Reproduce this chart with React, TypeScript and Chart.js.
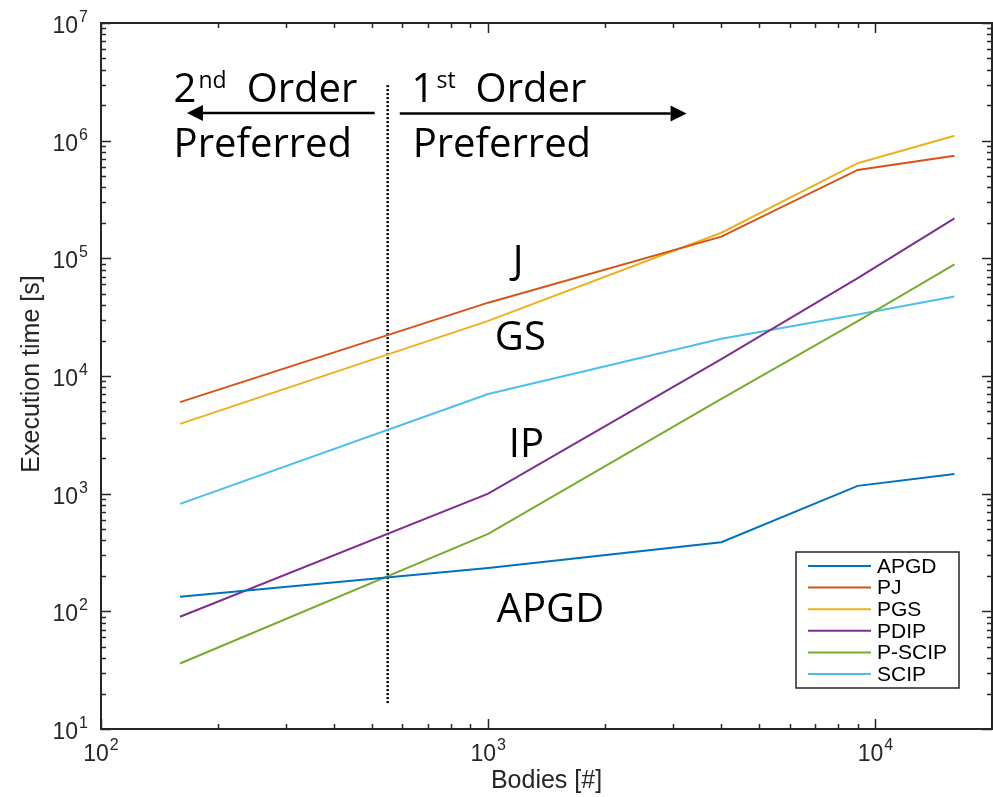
import { useEffect, useRef } from 'react';
import { Chart, registerables } from 'chart.js';

Chart.register(...registerables);

// Problem sizes (number of bodies) and measured execution times [s]
const BODIES = [160, 1000, 4000, 9000, 16000];
const APGD_TIME = [133, 234, 387, 1165, 1470];
const PJ_TIME = [6000, 42000, 152800, 564000, 746000];
const PGS_TIME = [3920, 29400, 165000, 643000, 1100000];
const PDIP_TIME = [90, 1000, 13900, 68000, 219000];
const PSCIP_TIME = [36, 455, 6400, 29300, 89000];
const SCIP_TIME = [819, 7040, 20700, 33300, 47300];

const SERIES_NAMES = ['APGD', 'PJ', 'PGS', 'PDIP', 'P-SCIP', 'SCIP'];
const SERIES_TIMES = [APGD_TIME, PJ_TIME, PGS_TIME, PDIP_TIME, PSCIP_TIME, SCIP_TIME];
const SERIES_COLORS = ['#0072BD', '#D95319', '#EDB120', '#7E2F8E', '#77AC30', '#4DBEEE'];

// Axis ranges and decade exponents used for tick labels
const X_RANGE = [100, 20000];
const Y_RANGE = [10, 1e7];
const X_DECADES = [2, 3, 4];
const Y_DECADES = [1, 2, 3, 4, 5, 6, 7];

// Crossover between 2nd-order and 1st-order methods
const DIVIDER_BODIES = 550;
const DIVIDER_TIMES = [16.6, 3.0e6];

const AXIS_COLOR = '#262626';
const TICK_FONT = '"Liberation Sans", Arial, sans-serif';
const NOTE_FONT = '"Open Sans", sans-serif';

// Annotations, anchored in data coordinates
const HEADINGS = [
  { pre: '2', sup: 'nd', post: 'Order', x: 154, y: 2.144e6 },
  { pre: '', sup: '', post: 'Preferred', x: 154, y: 7.26e5 },
  { pre: '1', sup: 'st', post: 'Order', x: 634, y: 2.144e6 },
  { pre: '', sup: '', post: 'Preferred', x: 638, y: 7.26e5 },
];
const ARROWS = [
  { from: 509, to: 166.7, y: 1.72e6 },
  { from: 591, to: 3253, y: 1.70e6 },
];
const CURVE_NOTES = [
  { text: 'J', x: 1157, y: 74300 },
  { text: 'GS', x: 1040, y: 16630 },
  { text: 'IP', x: 1130, y: 2062 },
  { text: 'APGD', x: 1052, y: 81.7 },
];

function logTicks(min: number, max: number) {
  const out: { v: number; major: boolean }[] = [];
  for (let e = Math.floor(Math.log10(min)); e <= Math.ceil(Math.log10(max)); e++) {
    for (let m = 1; m <= 9; m++) {
      const v = m * Math.pow(10, e);
      if (v >= min * 0.999 && v <= max * 1.001) out.push({ v, major: m === 1 });
    }
  }
  return out;
}

function powerLabel(ctx: CanvasRenderingContext2D, exp: string, x: number, baseY: number, align: 'right' | 'center') {
  ctx.font = `23px ${TICK_FONT}`;
  const wb = ctx.measureText('10').width;
  ctx.font = `16px ${TICK_FONT}`;
  const we = ctx.measureText(exp).width;
  const total = wb + 1 + we;
  const left = align === 'right' ? x - total : x - total / 2;
  ctx.textAlign = 'left';
  ctx.textBaseline = 'alphabetic';
  ctx.font = `23px ${TICK_FONT}`;
  ctx.fillText('10', left, baseY);
  ctx.font = `16px ${TICK_FONT}`;
  ctx.fillText(exp, left + wb + 1, baseY - 11);
}

const framePlugin = {
  id: 'frame',
  afterDraw(chart: any) {
    const { ctx, chartArea: a } = chart;
    const xs = chart.scales.x;
    const ys = chart.scales.y;
    ctx.save();

    // Annotation text
    ctx.fillStyle = '#000';
    ctx.textBaseline = 'alphabetic';
    ctx.textAlign = 'left';
    for (const h of HEADINGS) {
      let px = xs.getPixelForValue(h.x);
      const py = ys.getPixelForValue(h.y);
      ctx.font = `40px ${NOTE_FONT}`;
      if (h.pre) {
        ctx.fillText(h.pre, px, py);
        px += ctx.measureText(h.pre).width + 2;
        ctx.font = `23px ${NOTE_FONT}`;
        ctx.fillText(h.sup, px, py - 14);
        px += ctx.measureText(h.sup).width + 20;
        ctx.font = `40px ${NOTE_FONT}`;
      }
      ctx.fillText(h.post, px, py);
    }
    for (const n of CURVE_NOTES) {
      ctx.font = `40px ${NOTE_FONT}`;
      ctx.fillText(n.text, xs.getPixelForValue(n.x), ys.getPixelForValue(n.y));
    }

    // Arrows
    ctx.strokeStyle = '#000';
    ctx.lineWidth = 2.5;
    for (const ar of ARROWS) {
      const x0 = xs.getPixelForValue(ar.from);
      const x1 = xs.getPixelForValue(ar.to);
      const py = ys.getPixelForValue(ar.y);
      const dir = Math.sign(x1 - x0);
      const head = 16;
      ctx.beginPath();
      ctx.moveTo(x0, py);
      ctx.lineTo(x1 - dir * head, py);
      ctx.stroke();
      ctx.beginPath();
      ctx.moveTo(x1, py);
      ctx.lineTo(x1 - dir * head, py - 8);
      ctx.lineTo(x1 - dir * head, py + 8);
      ctx.closePath();
      ctx.fill();
    }

    // Axis box
    ctx.strokeStyle = AXIS_COLOR;
    ctx.lineWidth = 2;
    ctx.strokeRect(a.left, a.top, a.right - a.left, a.bottom - a.top);

    // Inward ticks on all four sides
    ctx.lineWidth = 1.5;
    ctx.beginPath();
    for (const t of logTicks(X_RANGE[0], X_RANGE[1])) {
      const px = Math.round(xs.getPixelForValue(t.v)) + 0.5;
      const len = t.major ? 10 : 5;
      ctx.moveTo(px, a.bottom);
      ctx.lineTo(px, a.bottom - len);
      ctx.moveTo(px, a.top);
      ctx.lineTo(px, a.top + len);
    }
    for (const t of logTicks(Y_RANGE[0], Y_RANGE[1])) {
      const py = Math.round(ys.getPixelForValue(t.v)) + 0.5;
      const len = t.major ? 10 : 5;
      ctx.moveTo(a.left, py);
      ctx.lineTo(a.left + len, py);
      ctx.moveTo(a.right, py);
      ctx.lineTo(a.right - len, py);
    }
    ctx.stroke();

    // Tick labels
    ctx.fillStyle = AXIS_COLOR;
    for (const e of X_DECADES) {
      powerLabel(ctx, String(e), xs.getPixelForValue(Math.pow(10, e)), a.bottom + 32, 'center');
    }
    for (const e of Y_DECADES) {
      powerLabel(ctx, String(e), a.left - 13, ys.getPixelForValue(Math.pow(10, e)) + 10, 'right');
    }

    // Axis titles
    ctx.font = `25px ${TICK_FONT}`;
    ctx.textAlign = 'center';
    ctx.textBaseline = 'alphabetic';
    ctx.fillText('Bodies [#]', (a.left + a.right) / 2, a.bottom + 59);
    ctx.save();
    ctx.translate(39, (a.top + a.bottom) / 2 - 2);
    ctx.rotate(-Math.PI / 2);
    ctx.fillText('Execution time [s]', 0, 0);
    ctx.restore();

    // Legend box in the lower right of the axes
    const bx = a.right - 196;
    const by = a.bottom - 177;
    const bw = 163;
    const bh = 136;
    ctx.fillStyle = '#fff';
    ctx.fillRect(bx, by, bw, bh);
    ctx.strokeStyle = AXIS_COLOR;
    ctx.lineWidth = 1.5;
    ctx.strokeRect(bx, by, bw, bh);
    ctx.font = `21px ${TICK_FONT}`;
    ctx.textAlign = 'left';
    ctx.textBaseline = 'middle';
    const series = chart.data.datasets.filter((d: any) => SERIES_NAMES.includes(d.label));
    series.forEach((d: any, i: number) => {
      const ry = by + 14 + i * 21.6;
      ctx.strokeStyle = d.borderColor;
      ctx.lineWidth = 2;
      ctx.beginPath();
      ctx.moveTo(bx + 12, ry);
      ctx.lineTo(bx + 75, ry);
      ctx.stroke();
      ctx.fillStyle = '#000';
      ctx.fillText(d.label, bx + 81, ry + 1);
    });

    ctx.restore();
  },
};

export default function App() {
  const canvasRef = useRef<HTMLCanvasElement | null>(null);

  useEffect(() => {
    document.body.style.margin = '0';
    const canvas = canvasRef.current;
    if (!canvas) return;

    const datasets: any[] = SERIES_NAMES.map((name, i) => ({
      label: name,
      data: BODIES.map((b, j) => ({ x: b, y: SERIES_TIMES[i][j] })),
      borderColor: SERIES_COLORS[i],
      backgroundColor: SERIES_COLORS[i],
      borderWidth: 2,
      pointRadius: 0,
      tension: 0,
      fill: false,
    }));
    datasets.push({
      label: 'divider',
      data: DIVIDER_TIMES.map((t) => ({ x: DIVIDER_BODIES, y: t })),
      borderColor: '#000',
      borderWidth: 2.5,
      borderDash: [2, 2],
      pointRadius: 0,
      fill: false,
    });

    const chart = new Chart(canvas, {
      type: 'line',
      data: { datasets },
      options: {
        animation: false,
        responsive: false,
        maintainAspectRatio: false,
        layout: { padding: { top: 23, right: 1, left: 0, bottom: 0 } },
        plugins: { legend: { display: false }, tooltip: { enabled: false } },
        events: [],
        scales: {
          x: {
            type: 'logarithmic',
            min: X_RANGE[0],
            max: X_RANGE[1],
            ticks: { display: false },
            grid: { display: false },
            border: { display: false },
            afterFit: (s: any) => { s.height = 68; },
          },
          y: {
            type: 'logarithmic',
            min: Y_RANGE[0],
            max: Y_RANGE[1],
            ticks: { display: false },
            grid: { display: false },
            border: { display: false },
            afterFit: (s: any) => { s.width = 101; },
          },
        },
      },
      plugins: [framePlugin],
    });

    return () => chart.destroy();
  }, []);

  return (
    <div style={{ width: 993, height: 797, background: '#fff' }}>
      <canvas ref={canvasRef} width={993} height={797} style={{ display: 'block' }} />
    </div>
  );
}
